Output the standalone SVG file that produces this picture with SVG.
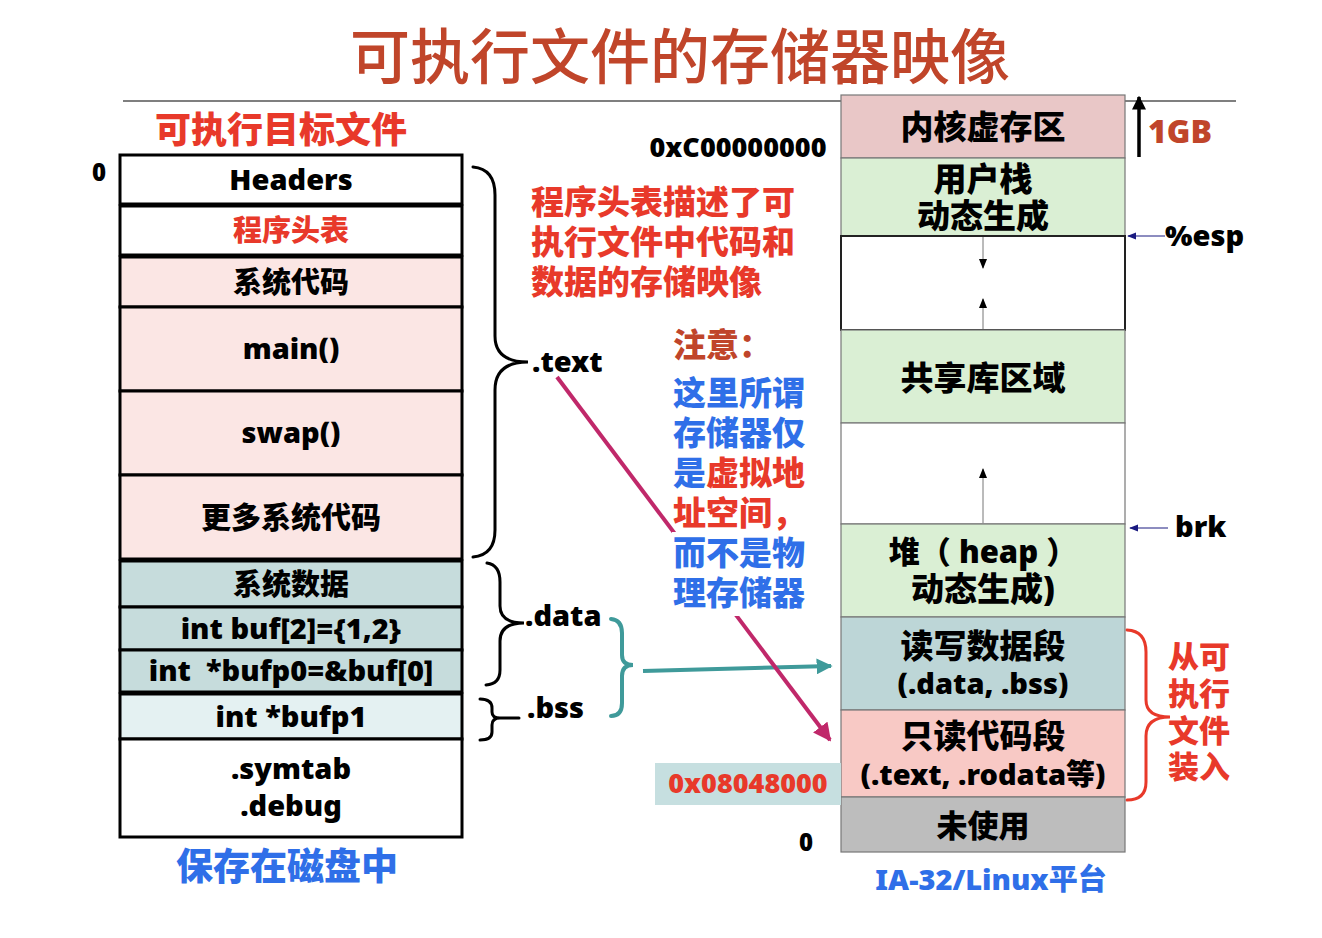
<svg xmlns="http://www.w3.org/2000/svg" width="1322" height="938" viewBox="0 0 1322 938">
  <style>
    text { font-family: "Noto Sans", "Noto Sans CJK SC", sans-serif; font-weight: 900; }
    .c { text-anchor: middle; }
    .t { font-size: 29px; fill: #000; }
    .r { font-size: 33px; fill: #000; }
    .red { fill: #E8392A; }
    .blue { fill: #2F6FE8; }
    .brown { fill: #C0452A; }
    .box { stroke: #000; stroke-width: 3; }
    .seg { stroke: #777; stroke-width: 1.2; }
  </style>
  <defs>
    <marker id="teal" viewBox="0 0 10 10" refX="9" refY="5" markerWidth="4" markerHeight="4" orient="auto">
      <path d="M0,0 L10,5 L0,10 z" fill="#3F9A9A"/>
    </marker>
    <marker id="mag" viewBox="0 0 10 10" refX="9" refY="5" markerWidth="4.5" markerHeight="4.5" orient="auto">
      <path d="M0,0 L10,5 L0,10 z" fill="#C0286A"/>
    </marker>
    <marker id="tri" viewBox="0 0 10 10" refX="9" refY="5" markerWidth="10" markerHeight="10" orient="auto">
      <path d="M0,1 L10,5 L0,9 z" fill="#000"/>
    </marker>
    <marker id="navy" viewBox="0 0 10 10" refX="9" refY="5" markerWidth="9" markerHeight="9" orient="auto">
      <path d="M0,1 L10,5 L0,9 z" fill="#1A1A80"/>
    </marker>
    <marker id="big" viewBox="0 0 10 10" refX="9" refY="5" markerWidth="4" markerHeight="4" orient="auto">
      <path d="M0,0 L10,5 L0,10 z" fill="#000"/>
    </marker>
  </defs>

  <rect width="1322" height="938" fill="#fff"/>

  <!-- title and rule -->
  <text x="680" y="79" class="c brown" style="font-family:'Noto Sans CJK SC',sans-serif;font-weight:500;font-size:60px">可执行文件的存储器映像</text>
  <line x1="123" y1="101" x2="1236" y2="101" stroke="#555" stroke-width="1.5"/>

  <!-- left column: executable object file -->
  <text x="281" y="143" class="c red" font-size="36">可执行目标文件</text>
  <text x="99" y="181" class="c" font-size="24">0</text>

  <g id="headers">
    <rect x="120" y="155" width="342" height="49" fill="#fff" class="box"/>
    <text x="291" y="190" class="c t">Headers</text>
  </g>
  <g id="phdr">
    <rect x="120" y="206" width="342" height="49" fill="#fff" class="box"/>
    <text x="291" y="241" class="c t red">程序头表</text>
  </g>
  <g id="syscode">
    <rect x="120" y="257" width="342" height="50" fill="#FBE6E4" class="box"/>
    <text x="291" y="293" class="c t">系统代码</text>
  </g>
  <g id="main">
    <rect x="120" y="307" width="342" height="84" fill="#FBE6E4" class="box"/>
    <text x="291" y="359" class="c t">main()</text>
  </g>
  <g id="swap">
    <rect x="120" y="391" width="342" height="84" fill="#FBE6E4" class="box"/>
    <text x="291" y="443" class="c t">swap()</text>
  </g>
  <g id="moresys">
    <rect x="120" y="475" width="342" height="84" fill="#FBE6E4" class="box"/>
    <text x="291" y="528" class="c" font-size="30">更多系统代码</text>
  </g>
  <g id="sysdata">
    <rect x="120" y="561" width="342" height="46" fill="#C6DCDC" class="box"/>
    <text x="291" y="595" class="c t">系统数据</text>
  </g>
  <g id="buf">
    <rect x="120" y="607" width="342" height="43" fill="#C6DCDC" class="box"/>
    <text x="291" y="639" class="c t">int buf[2]={1,2}</text>
  </g>
  <g id="bufp0">
    <rect x="120" y="650" width="342" height="42" fill="#C6DCDC" class="box"/>
    <text x="291" y="681" class="c t" xml:space="preserve">int  *bufp0=&amp;buf[0]</text>
  </g>
  <g id="bufp1">
    <rect x="120" y="694" width="342" height="45" fill="#E4F1F2" class="box"/>
    <text x="291" y="727" class="c t">int *bufp1</text>
  </g>
  <g id="symtab">
    <rect x="120" y="739" width="342" height="98" fill="#fff" class="box"/>
    <text x="291" y="779" class="c t">.symtab</text>
    <text x="291" y="816" class="c t">.debug</text>
  </g>
  <text x="287" y="880" class="c blue" font-size="37">保存在磁盘中</text>

  <!-- section braces -->
  <g id="braces" fill="none" stroke-linecap="round">
    <path d="M473 167 Q495 169 495 195 L495 336 Q495 362 528 362 Q495 362 495 390 L495 530 Q495 555 473 557" stroke="#000" stroke-width="3"/>
    <path d="M487 563 Q500 565 500 582 L500 606 Q500 623 524 623 Q500 623 500 641 L500 670 Q500 684 486 685" stroke="#000" stroke-width="3"/>
    <path d="M480 699 Q492 699 492 708 L492 712 Q492 718 500 718 L519 718 M500 718 Q492 718 492 725 L492 732 Q492 740 480 740" stroke="#000" stroke-width="3"/>
    <path d="M611 619 Q622 620 622 633 L622 655 Q622 665 633 665 Q622 665 622 676 L622 703 Q622 716 611 716" stroke="#3F9A9A" stroke-width="4"/>
    <path d="M1127 630 Q1146 631 1146 652 L1146 700 Q1146 717 1170 717 Q1146 717 1146 736 L1146 782 Q1146 800 1127 800" stroke="#E8392A" stroke-width="3"/>
  </g>
  <text x="532" y="372" class="t">.text</text>
  <text x="525" y="626" class="t">.data</text>
  <text x="527" y="718" class="t">.bss</text>

  <!-- right column: virtual address space -->
  <g id="kernel">
    <rect x="841" y="95" width="284" height="63" fill="#E9C7C7" class="seg"/>
    <text x="983" y="139" class="c r">内核虚存区</text>
  </g>
  <g id="ustack">
    <rect x="841" y="158" width="284" height="78" fill="#DAEFD4" class="seg"/>
    <text x="983" y="191" class="c r">用户栈</text>
    <text x="983" y="228" class="c r">动态生成</text>
  </g>
  <g id="gap1">
    <rect x="841" y="236" width="284" height="94" fill="#fff" stroke="#222" stroke-width="2"/>
  </g>
  <g id="shlib">
    <rect x="841" y="330" width="284" height="93" fill="#DAEFD4" class="seg"/>
    <text x="983" y="390" class="c r">共享库区域</text>
  </g>
  <g id="gap2">
    <rect x="841" y="423" width="284" height="101" fill="#fff" class="seg"/>
  </g>
  <g id="heap">
    <rect x="841" y="524" width="284" height="93" fill="#DAEFD4" class="seg"/>
    <text x="983" y="563" class="c" font-size="31" xml:space="preserve">堆（ heap ）</text>
    <text x="983" y="601" class="c r">动态生成)</text>
  </g>
  <g id="rwdata">
    <rect x="841" y="617" width="284" height="93" fill="#BDD6D7" class="seg"/>
    <text x="983" y="658" class="c r">读写数据段</text>
    <text x="983" y="694" class="c" font-size="29">(.data, .bss)</text>
  </g>
  <g id="rocode">
    <rect x="841" y="710" width="284" height="87" fill="#F8C9C5" class="seg"/>
    <text x="983" y="748" class="c r">只读代码段</text>
    <text x="983" y="785" class="c" font-size="29">(.text, .rodata等)</text>
  </g>
  <g id="unused">
    <rect x="841" y="797" width="284" height="55" fill="#BDBDBD" class="seg"/>
    <text x="983" y="837" class="c" font-size="31">未使用</text>
  </g>

  <!-- connectors -->
  <g id="connectors" fill="none">
    <line x1="983" y1="237" x2="983" y2="268" stroke="#777" stroke-width="1" marker-end="url(#tri)"/>
    <line x1="983" y1="329" x2="983" y2="299" stroke="#777" stroke-width="1" marker-end="url(#tri)"/>
    <line x1="983" y1="523" x2="983" y2="469" stroke="#777" stroke-width="1" marker-end="url(#tri)"/>
    <line x1="1165" y1="236" x2="1128" y2="236" stroke="#1A1A80" stroke-width="1" marker-end="url(#navy)"/>
    <line x1="1168" y1="528" x2="1130" y2="528" stroke="#1A1A80" stroke-width="1" marker-end="url(#navy)"/>
    <line x1="1139" y1="157" x2="1139" y2="97" stroke="#000" stroke-width="3.5" marker-end="url(#big)"/>
    <line x1="643" y1="671" x2="831" y2="666" stroke="#3F9A9A" stroke-width="4" marker-end="url(#teal)"/>
    <line x1="557" y1="377" x2="830" y2="740" stroke="#C0286A" stroke-width="4" marker-end="url(#mag)"/>
  </g>

  <!-- annotations (white backing hides the crossing line) -->
  <rect x="672" y="532" width="140" height="84" fill="#fff"/>
  <text x="531" y="214" class="red" font-size="33">程序头表描述了可</text>
  <text x="531" y="254" class="red" font-size="33">执行文件中代码和</text>
  <text x="531" y="294" class="red" font-size="33">数据的存储映像</text>
  <text x="673" y="357" class="brown" font-size="33">注意：</text>
  <text x="673" y="405" class="blue" font-size="33">这里所谓</text>
  <text x="673" y="445" class="blue" font-size="33">存储器仅</text>
  <text x="673" y="485" font-size="33"><tspan class="blue">是</tspan><tspan class="red">虚拟地</tspan></text>
  <text x="673" y="525" class="red" font-size="33">址空间，</text>
  <text x="673" y="565" class="blue" font-size="33">而不是物</text>
  <text x="673" y="605" class="blue" font-size="33">理存储器</text>

  <!-- addresses and markers -->
  <text x="738" y="157" class="c" font-size="27">0xC00000000</text>
  <rect x="655" y="763" width="186" height="42" fill="#C6DFE0"/>
  <text x="748" y="793" class="c red" font-size="27">0x08048000</text>
  <text x="806" y="851" class="c" font-size="24">0</text>
  <text x="1180" y="143" class="c brown" font-size="32">1GB</text>
  <text x="1165" y="246" font-size="29">%esp</text>
  <text x="1175" y="537" font-size="29">brk</text>
  <text x="1199" y="668" class="c red" font-size="31">从可</text>
  <text x="1199" y="705" class="c red" font-size="31">执行</text>
  <text x="1199" y="742" class="c red" font-size="31">文件</text>
  <text x="1199" y="778" class="c red" font-size="31">装入</text>
  <text x="991" y="890" class="c blue" font-size="29">IA-32/Linux平台</text>
</svg>
